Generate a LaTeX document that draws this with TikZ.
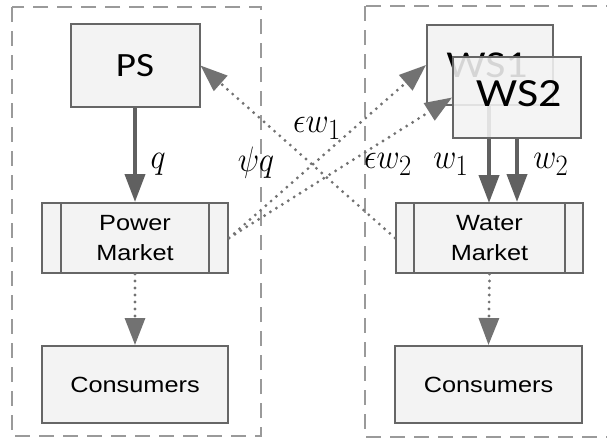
\documentclass[tikz,border=0pt]{standalone}
\usepackage{fontspec}
\usetikzlibrary{arrows.meta}
\newfontfamily\mkfont{Liberation Sans}[FakeStretch=1.15]
\newfontfamily\csfont{Carlito}[FakeStretch=1.15]
\definecolor{boxfill}{HTML}{F3F3F3}
\definecolor{boxline}{HTML}{666666}
\definecolor{contline}{HTML}{9A9A9A}
\definecolor{arrcol}{HTML}{606060}
\definecolor{dotcol}{HTML}{727272}
\tikzset{
  container/.style={draw=contline, line width=2pt, dash pattern=on 15pt off 9pt},
  agent/.style={draw=boxline, fill=boxfill, line width=2pt, inner sep=0pt, font=\csfont\fontsize{34}{40}\selectfont},
  market/.style={draw=boxline, fill=boxfill, line width=2pt, inner sep=0pt, align=center, font=\mkfont\fontsize{22}{30}\selectfont},
  solidarr/.style={draw=arrcol, line width=4pt, -{Triangle[length=28pt,width=20pt]}},
  dotarr/.style={draw=dotcol, line width=3.2pt, line cap=round, dash pattern=on 0pt off 7pt, -{Triangle[length=27pt,width=20pt]}},
  lbl/.style={inner sep=0pt, font=\fontsize{24.88}{28}\selectfont},
}
\newcommand{\mylbl}[1]{\scalebox{1.28}[1.42]{$#1$}}
\begin{document}
\begin{tikzpicture}[x=1pt,y=-1pt]
\useasboundingbox (0,0) rectangle (607,439);
% containers
\draw[container] (12,7) rectangle (261,436);
\draw[container] (365,6) rectangle (650,437);
% boxes
\node[agent, minimum width=129pt, minimum height=83pt] (ps) at (135,65.5) {PS};
\node[agent, minimum width=126pt, minimum height=80pt] (ws1) at (490,65) {};
\node[inner sep=0pt, font=\csfont\fontsize{38}{42}\selectfont] (ws1t) at (487,65) {WS1};
\draw[solidarr] ([xshift=-1pt]ws1.south) -- ([xshift=-1pt]ws1.south |- 0,203) coordinate (w1end);
\node[agent, minimum width=128pt, minimum height=81pt, fill opacity=0.88] (ws2) at (517,97.5) {};
\node[inner sep=0pt, font=\csfont\fontsize{40}{44}\selectfont] (ws2t) at (519,94) {WS2};
\node[market, minimum width=186pt, minimum height=70pt] (pm) at (135,238) {Power\\Market};
\node[market, minimum width=187pt, minimum height=70pt] (wm) at (489.5,238) {Water\\Market};
\draw[boxline, line width=2pt] ([xshift=20pt]pm.north west) -- ([xshift=20pt]pm.south west)
  ([xshift=-20pt]pm.north east) -- ([xshift=-20pt]pm.south east);
\draw[boxline, line width=2pt] ([xshift=19pt]wm.north west) -- ([xshift=19pt]wm.south west)
  ([xshift=-19pt]wm.north east) -- ([xshift=-19pt]wm.south east);
\node[market, minimum width=186pt, minimum height=77pt] (c1) at (135,384.5) {Consumers};
\node[market, minimum width=187pt, minimum height=77pt] (c2) at (488.5,384.5) {Consumers};
% solid arrows
\draw[solidarr] (ps.south) -- (pm.north);
\draw[solidarr] (ws2.south) -- (ws2.south |- wm.north);
% dotted arrows
\draw[dotarr] (wm.west) -- (ps.east);
\draw[dotarr] (pm.east) -- (ws1.west);
\draw[dotarr] (pm.east) -- (ws2.west);
\draw[dotarr] (pm.south) -- (c1.north);
\draw[dotarr] (wm.south) -- (c2.north);
% labels
\node[lbl] (lq) at (158,164) {\mylbl{q}};
\node[lbl] (lpsi) at (256,163) {\mylbl{\psi q}};
\node[lbl] (le1) at (317,128) {\mylbl{\epsilon w_1}};
\node[lbl] (le2) at (388,164) {\mylbl{\epsilon w_2}};
\node[lbl] (lw1) at (451,164) {\mylbl{w_1}};
\node[lbl] (lw2) at (551,164) {\mylbl{w_2}};
\end{tikzpicture}
\end{document}
